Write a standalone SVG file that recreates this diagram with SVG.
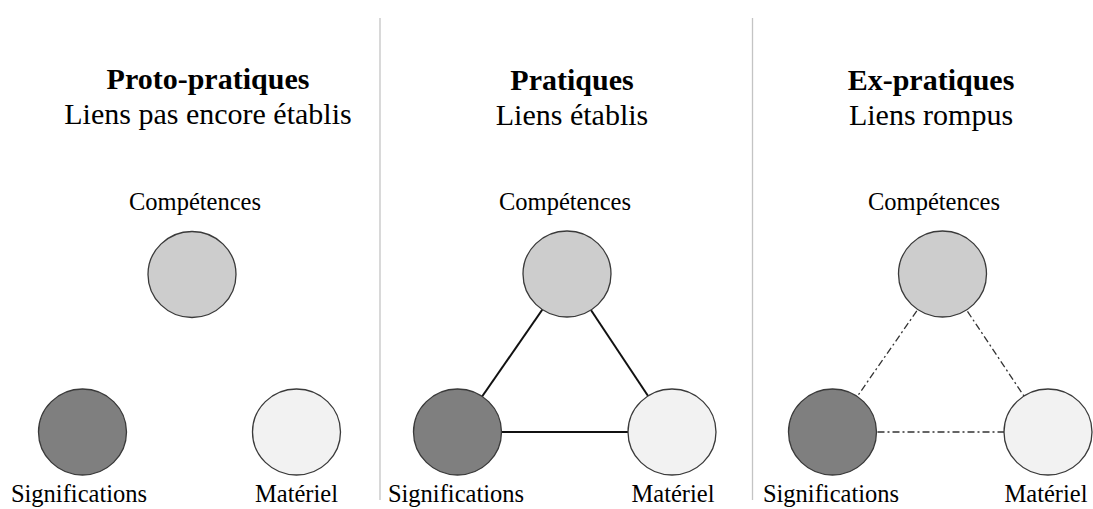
<svg xmlns="http://www.w3.org/2000/svg" width="1093" height="509" viewBox="0 0 1093 509">
<style>
text{font-family:"Liberation Serif","Times New Roman",serif;fill:#000;text-anchor:middle}
.h{font-size:30px;font-weight:bold}
.s{font-size:30px}
.l{font-size:24.5px}
.div{stroke:#c4c4c4;stroke-width:1.3}
.n{stroke:#3a3a3a;stroke-width:1.3}
.comp{fill:#cdcdcd}
.sig{fill:#7f7f7f}
.mat{fill:#f2f2f2}
.solid{stroke:#111;stroke-width:2;fill:none}
.broken{stroke:#333;stroke-width:1.3;fill:none;stroke-dasharray:7 3 2 3}
</style>
<rect width="1093" height="509" fill="#fff"/>
<g id="dividers">
<line class="div" x1="380" y1="18" x2="380" y2="500"/>
<line class="div" x1="752.5" y1="18" x2="752.5" y2="500"/>
</g>
<g id="titles">
<text class="h" x="208" y="89">Proto-pratiques</text>
<text class="s" x="208" y="124">Liens pas encore établis</text>
<text class="h" x="572" y="90">Pratiques</text>
<text class="s" x="572" y="125">Liens établis</text>
<text class="h" x="931" y="90">Ex-pratiques</text>
<text class="s" x="931" y="125">Liens rompus</text>
</g>
<g id="connectors">
<line class="solid" x1="567" y1="274" x2="457.5" y2="432"/>
<line class="solid" x1="567" y1="274" x2="672" y2="432"/>
<line class="solid" x1="457.5" y1="432" x2="672" y2="432"/>
<line class="broken" x1="942.5" y1="274" x2="832.5" y2="432"/>
<line class="broken" x1="942.5" y1="274" x2="1048" y2="432"/>
<line class="broken" x1="832.5" y1="432" x2="1048" y2="432"/>
</g>
<g id="p1-competences"><ellipse class="n comp" cx="192" cy="274.5" rx="44" ry="43"/><text class="l" x="195" y="210">Compétences</text></g>
<g id="p1-significations"><ellipse class="n sig" cx="82.5" cy="432" rx="44" ry="43"/><text class="l" x="79" y="502">Significations</text></g>
<g id="p1-materiel"><ellipse class="n mat" cx="296.5" cy="432" rx="44" ry="43"/><text class="l" x="296.5" y="502">Matériel</text></g>
<g id="p2-competences"><ellipse class="n comp" cx="567" cy="274" rx="44" ry="43"/><text class="l" x="565" y="210">Compétences</text></g>
<g id="p2-significations"><ellipse class="n sig" cx="457.5" cy="432" rx="44" ry="43"/><text class="l" x="456" y="502">Significations</text></g>
<g id="p2-materiel"><ellipse class="n mat" cx="672" cy="432" rx="44" ry="43"/><text class="l" x="673" y="502">Matériel</text></g>
<g id="p3-competences"><ellipse class="n comp" cx="942.5" cy="274" rx="44" ry="43"/><text class="l" x="934" y="210">Compétences</text></g>
<g id="p3-significations"><ellipse class="n sig" cx="832.5" cy="432" rx="44" ry="43"/><text class="l" x="831" y="502">Significations</text></g>
<g id="p3-materiel"><ellipse class="n mat" cx="1048" cy="432" rx="44" ry="43"/><text class="l" x="1046" y="502">Matériel</text></g>
</svg>
